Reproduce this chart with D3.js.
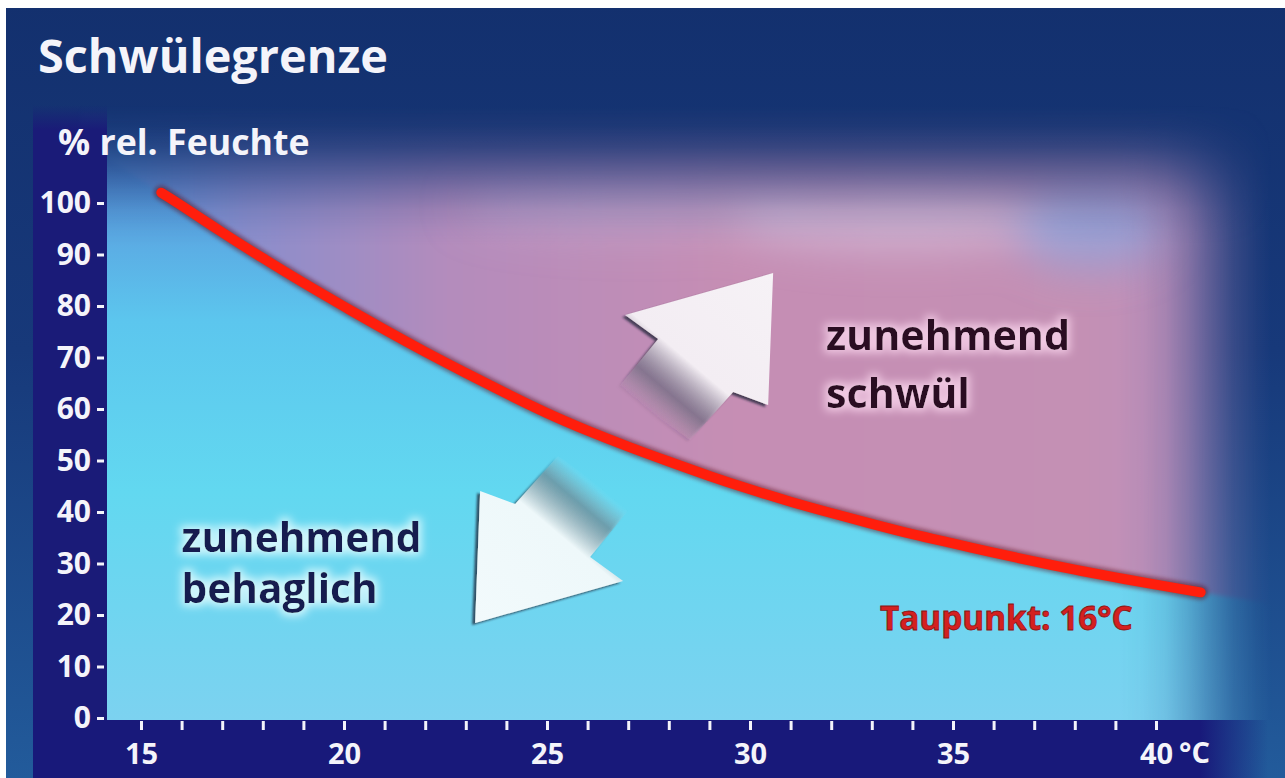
<!DOCTYPE html>
<html lang="de">
<head>
<meta charset="utf-8">
<title>Schwülegrenze</title>
<script src="https://d3js.org/d3.v7.min.js"></script>
<style>
	body{ margin:0; background:#fff; }
	svg{ display:block; }
	text{ font-family:"Open Sans", "Noto Sans", sans-serif; font-weight:700; }
</style>
</head>
<body>
<div id="chart"></div>

<script>
// Taupunkt 16 °C: rel. Feuchte (%) je Lufttemperatur (°C)
let temps    = [15.5, 16, 17, 18, 19, 20, 21, 22, 23, 24, 25, 26, 27, 28, 29, 30, 31, 32, 33, 34, 35, 36, 37, 38, 39, 40, 41.1];
let humidity = [102, 99.5, 94.3, 89.3, 84.5, 79.9, 75.4, 71.1, 67.0, 63.0, 59.2, 55.8, 52.7, 49.8, 47.0, 44.4, 42.0, 39.8, 37.7, 35.7, 33.9, 32.1, 30.4, 28.8, 27.3, 25.9, 24.4];

let yTicks  = [0, 10, 20, 30, 40, 50, 60, 70, 80, 90, 100];
let xTicks  = [15, 16, 17, 18, 19, 20, 21, 22, 23, 24, 25, 26, 27, 28, 29, 30, 31, 32, 33, 34, 35, 36, 37, 38, 39, 40];
let xLabels = [15, 20, 25, 30, 35, 40];

let title   = "Schwülegrenze";
let yTitle  = "% rel. Feuchte";
let unitX   = "°C";
let seriesName = "Taupunkt: 16°C";
let upperText  = ["zunehmend", "schwül"];
let lowerText  = ["zunehmend", "behaglich"];

const W = 1285, H = 778;
let x = d3.scaleLinear().domain([15, 40]).range([141, 1156]);
let y = d3.scaleLinear().domain([0, 100]).range([718, 203]);

let data = temps.map((t, i) => ({ t: t, rh: humidity[i] }));

let svg = d3.select("#chart").append("svg").attr("width", W).attr("height", H);
let defs = svg.append("defs");

function grad(id, x1, y1, x2, y2, stops){
	let g = defs.append("linearGradient").attr("id", id)
		.attr("gradientUnits", "userSpaceOnUse")
		.attr("x1", x1).attr("y1", y1).attr("x2", x2).attr("y2", y2);
	stops.forEach(s => g.append("stop").attr("offset", s[0])
		.attr("stop-color", s[1]).attr("stop-opacity", s[2] == null ? 1 : s[2]));
}
function blur(id, sd){
	defs.append("filter").attr("id", id)
		.attr("filterUnits", "userSpaceOnUse").attr("x", -300).attr("y", -300).attr("width", 1900).attr("height", 1400)
		.append("feGaussianBlur").attr("stdDeviation", sd);
}
function glow(id, col, r, sd){
	let f = defs.append("filter").attr("id", id).attr("x", "-20%").attr("y", "-40%").attr("width", "140%").attr("height", "180%");
	f.append("feMorphology").attr("in", "SourceAlpha").attr("operator", "dilate").attr("radius", r).attr("result", "d");
	f.append("feGaussianBlur").attr("in", "d").attr("stdDeviation", sd).attr("result", "b");
	f.append("feFlood").attr("flood-color", col);
	f.append("feComposite").attr("in2", "b").attr("operator", "in").attr("result", "g");
	let m = f.append("feMerge");
	m.append("feMergeNode").attr("in", "g");
	m.append("feMergeNode").attr("in", "SourceGraphic");
}
// scale font so the text (or its first line) gets the wanted width
function fit(sel, w){
	let n = sel.node();
	let m = n.querySelector("tspan") || n;
	let fs = parseFloat(sel.style("font-size"));
	sel.style("font-size", (fs * w / m.getComputedTextLength()).toFixed(1) + "px");
}

grad("bg", 0, 0, 0, H, [[0, "#13306e"], [0.45, "#17397a"], [1, "#225b9b"]]);
grad("cyan", 0, 150, 0, 720, [[0, "#5a8ed8"], [0.3, "#5cc6ee"], [0.6, "#62d8f0"], [1, "#7cd2f0"]]);
grad("pink", 107, 0, 1250, 0, [[0, "#5f9ce0"], [0.12, "#8a8ecc"], [0.3, "#b48cbc"], [0.55, "#c68eb4"], [0.85, "#c490b4"], [1, "#b890c0"]]);
grad("yband", 0, 105, 0, 130, [[0, "#1a1b78", 0], [1, "#1a1b78"]]);
grad("xband", 1200, 0, 1268, 0, [[0, "#18197a"], [1, "#18197a", 0]]);
grad("fadeV", 0, 105, 0, 245, [[0, "#fff", 0], [0.15, "#fff", 0.06], [0.3, "#fff", 0.2], [0.45, "#fff", 0.42], [0.6, "#fff", 0.65], [0.75, "#fff", 0.85], [0.9, "#fff", 0.96], [1, "#fff", 1]]);
grad("fadeH", 1120, 0, 1272, 0, [[0, "#fff", 1], [0.15, "#fff", 0.96], [0.3, "#fff", 0.86], [0.45, "#fff", 0.66], [0.6, "#fff", 0.42], [0.75, "#fff", 0.2], [0.9, "#fff", 0.06], [1, "#fff", 0]]);
grad("arrUp", -119, 141, 0, 0, [[0, "#c8b8cc", 0], [0.14, "#857c94", 0.6], [0.34, "#f3edf3"], [1, "#f6f2f6"]]);
grad("arrDown", -119, 141, 0, 0, [[0, "#b8e0ea", 0], [0.14, "#7b9aa6", 0.6], [0.34, "#eef8fa"], [1, "#f2fafc"]]);
blur("cloud", 22);
blur("soft", 2);
glow("glowPink", "#f0c8e2", 3, 4);
glow("glowCyan", "#d0f6fc", 3, 4);

let sh = defs.append("filter").attr("id", "arrShadow").attr("x", "-20%").attr("y", "-20%").attr("width", "140%").attr("height", "140%");
sh.append("feDropShadow").attr("dx", -3).attr("dy", 2).attr("stdDeviation", 1)
	.attr("flood-color", "#1e2236").attr("flood-opacity", 0.75);

["fadeV", "fadeH"].forEach(id => {
	defs.append("mask").attr("id", "m" + id).attr("maskUnits", "userSpaceOnUse")
		.attr("x", 0).attr("y", 0).attr("width", W).attr("height", H)
		.append("rect").attr("width", W).attr("height", H).attr("fill", "url(#" + id + ")");
});

// background
svg.append("rect").attr("x", 6).attr("y", 8).attr("width", W - 6).attr("height", H - 8).attr("fill", "url(#bg)");

// plot area: cyan below, mauve above the line
let plot = svg.append("g").attr("mask", "url(#mfadeV)").append("g").attr("mask", "url(#mfadeH)");
plot.append("rect").attr("x", 107).attr("y", 90).attr("width", W - 107).attr("height", 630).attr("fill", "url(#cyan)");

let area = d3.area().curve(d3.curveNatural)
	.x(d => x(d.t)).y0(90).y1(d => y(d.rh));
plot.append("path").datum([{ t: 13.5, rh: 112 }].concat(data, [{ t: 43, rh: 22 }]))
	.attr("d", area).attr("fill", "url(#pink)").attr("filter", "url(#soft)");

let clouds = plot.append("g").attr("filter", "url(#cloud)");
clouds.append("ellipse").attr("cx", 640).attr("cy", 205).attr("rx", 180).attr("ry", 28).attr("fill", "#c0b6dc").attr("opacity", 0.45);
clouds.append("ellipse").attr("cx", 900).attr("cy", 218).attr("rx", 170).attr("ry", 30).attr("fill", "#d8d0ea").attr("opacity", 0.55);
clouds.append("ellipse").attr("cx", 1090).attr("cy", 228).attr("rx", 75).attr("ry", 40).attr("fill", "#86a8e4").attr("opacity", 0.65);

// axis bands
svg.append("rect").attr("x", 33).attr("y", 105).attr("width", 74).attr("height", H - 105).attr("fill", "url(#yband)");
svg.append("rect").attr("x", 33).attr("y", 720).attr("width", 1240).attr("height", 58).attr("fill", "url(#xband)");

// axes
let yAxis = d3.axisLeft(y).tickValues(yTicks).tickSize(7).tickPadding(6);
let gy = svg.append("g").attr("transform", "translate(104,0)").call(yAxis);
let xAxis = d3.axisBottom(x).tickValues(xTicks).tickSize(9).tickPadding(13)
	.tickFormat(d => xLabels.includes(d) ? d : "");
let gx = svg.append("g").attr("transform", "translate(0,721)").call(xAxis);

[gy, gx].forEach(g => {
	g.select(".domain").remove();
	g.selectAll(".tick line").attr("stroke", "#f4f4fa").attr("stroke-width", 3);
	g.selectAll(".tick text").attr("fill", "#f4f4fa")
		.style("font-family", "'Open Sans', sans-serif").style("font-weight", 700).style("font-size", "30px");
});
gx.selectAll(".tick text").style("font-size", "29px");

svg.append("text").attr("x", x(40) + 23).attr("y", 763).text(unitX)
	.attr("fill", "#f4f4fa").style("font-size", "29px");

// titles
fit(svg.append("text").attr("x", 38).attr("y", 73).text(title)
	.attr("fill", "#f4f4fa").style("font-size", "46px"), 350);
fit(svg.append("text").attr("x", 58).attr("y", 155).text(yTitle)
	.attr("fill", "#f4f4fa").style("font-size", "36px"), 252);

// arrows (tip anchored in data space)
let arrowShape = [[0, 0], [-5, 132], [-40, 119], [-83, 167], [-155, 115], [-115, 66], [-148, 42]];
let arrows = [
	{ t: 30.57, rh: 86.4, rot: 0, fill: "url(#arrUp)" },
	{ t: 23.23, rh: 18.45, rot: 180, fill: "url(#arrDown)" }
];
arrows.forEach(a => {
	svg.append("g").attr("filter", "url(#arrShadow)")
		.append("g").attr("transform", "translate(" + x(a.t) + "," + y(a.rh) + ") rotate(" + a.rot + ")")
		.append("path").attr("d", "M" + arrowShape.join("L") + "Z").attr("fill", a.fill);
});

// the line
let line = d3.line().curve(d3.curveNatural).x(d => x(d.t)).y(d => y(d.rh));
svg.append("path").datum(data).attr("d", line).attr("fill", "none")
	.attr("stroke", "#5a0a14").attr("stroke-width", 14).attr("stroke-linecap", "round")
	.attr("opacity", 0.55).attr("filter", "url(#soft)");
svg.append("path").datum(data).attr("d", line).attr("fill", "none")
	.attr("stroke", "#ff1e0c").attr("stroke-width", 10).attr("stroke-linecap", "round");

// region notes, two lines each
function note(lines, t, rh, gap, col, filt, w){
	let tx = svg.append("text").attr("fill", col).attr("filter", filt).style("font-size", "40px");
	lines.forEach((s, i) => tx.append("tspan").attr("x", x(t)).attr("y", y(rh) + i * gap).text(s));
	fit(tx, w);
}
note(upperText, 31.87, 71.5, 58, "#2a0c22", "url(#glowPink)", 244);
note(lowerText, 16.0, 32.2, 51, "#141c50", "url(#glowCyan)", 240);

fit(svg.append("text").attr("x", x(33.2)).attr("y", y(17.1)).text(seriesName)
	.attr("fill", "#d42020").attr("stroke", "#8a1414").attr("stroke-width", 0.8)
	.style("font-size", "34px"), 253);
</script>
</body>
</html>
